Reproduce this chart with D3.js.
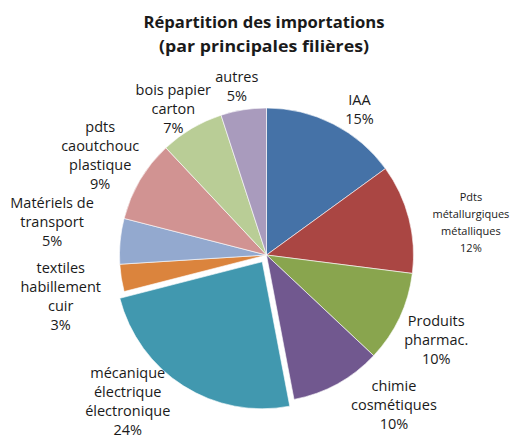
<!DOCTYPE html>
<html><head><meta charset="utf-8">
<script src="https://cdn.jsdelivr.net/npm/d3@7"></script>
<style>body{margin:0;background:#fff}svg{display:block}</style>
</head><body>
<svg id="c" width="515" height="438"></svg>
<script>
const categories = [
  ["IAA"],
  ["Pdts", "métallurgiques", "métalliques"],
  ["Produits", "pharmac."],
  ["chimie", "cosmétiques"],
  ["mécanique", "électrique", "électronique"],
  ["textiles", "habillement", "cuir"],
  ["Matériels de", "transport"],
  ["pdts", "caoutchouc", "plastique"],
  ["bois papier", "carton"],
  ["autres"]
];
const values = [15, 12, 10, 10, 24, 3, 5, 9, 7, 5];
const colors = ["#4572A7","#AA4643","#89A54E","#71588F","#4198AF","#DB843D","#93A9CF","#D19392","#B9CD96","#A99BBD"];
const title = ["Répartition des importations", "(par principales filières)"];

// layout (not data)
const labelDist = [173, 207, 190, 197, 202, 210, 217, 194, 173, 171];
const labelAngleNudge = [5.5, 5.3, 1.5, -11.5, 11, -2.5, 3.4, 0.4, -2, -1]; // degrees
const explode = [0,0,0,0,8,0,0,0,0,0];
const smallFont = [false,true,false,false,false,false,false,false,false,false];

const svg = d3.select("#c");
const cx = 266.5, cy = 255, R = 147;
const font = "'Open Sans', Lato, sans-serif";

svg.append("g").selectAll("text").data(title).join("text")
  .attr("x", 264).attr("y", (d,i)=>28 + i*24)
  .attr("text-anchor","middle").attr("font-family",font)
  .attr("font-weight","bold").attr("font-size",16.5).attr("fill","#1a1a1a")
  .attr("textLength", (d,i)=> i===0 ? 241 : 210).attr("lengthAdjust","spacingAndGlyphs")
  .text(d=>d);

const pie = d3.pie().sort(null).value(d=>d);
const arcs = pie(values);
const arc = d3.arc().innerRadius(0).outerRadius(R);

const g = svg.append("g").attr("transform",`translate(${cx},${cy})`);
g.selectAll("path").data(arcs).join("path")
  .attr("d", arc)
  .attr("fill",(d,i)=>colors[i])
  .attr("stroke","#ffffff").attr("stroke-width",0.6)
  .attr("transform",(d,i)=>{
    const a = (d.startAngle+d.endAngle)/2;
    return `translate(${Math.sin(a)*explode[i]},${-Math.cos(a)*explode[i]})`;
  });

const lg = g.selectAll("g.lab").data(arcs).join("g").attr("class","lab");
lg.each(function(d,i){
  const a = (d.startAngle+d.endAngle)/2 + labelAngleNudge[i]*Math.PI/180;
  const x = Math.sin(a)*labelDist[i], y = -Math.cos(a)*labelDist[i];
  const lines = categories[i].concat([values[i]+"%"]);
  const fs = smallFont[i] ? 11 : 14.5;
  const lh = smallFont[i] ? 17 : 19;
  const y0 = y - (lines.length-1)*lh/2;
  d3.select(this).selectAll("text").data(lines).join("text")
    .attr("x", x).attr("y", (t,k)=>y0 + k*lh)
    .attr("dy","0.35em")
    .attr("text-anchor","middle").attr("font-family",font)
    .attr("font-size",fs).attr("fill","#1a1a1a")
    .text(t=>t);
});
</script>
</body></html>
